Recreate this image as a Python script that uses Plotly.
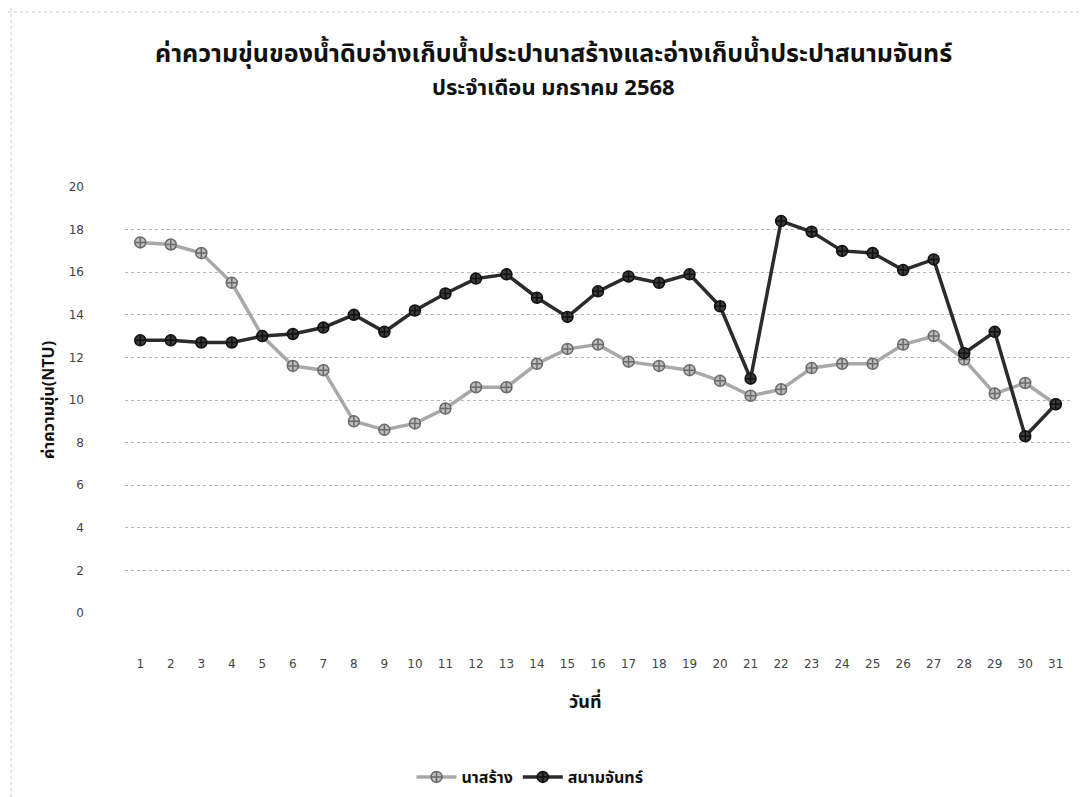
import plotly.graph_objects as go

days = list(range(1, 32))
day_labels = [str(d) for d in days]
nasarang = [17.4, 17.3, 16.9, 15.5, 13.0, 11.6, 11.4, 9.0, 8.6, 8.9, 9.6, 10.6, 10.6,
            11.7, 12.4, 12.6, 11.8, 11.6, 11.4, 10.9, 10.2, 10.5, 11.5, 11.7, 11.7,
            12.6, 13.0, 11.9, 10.3, 10.8, 9.8]
sanamchan = [12.8, 12.8, 12.7, 12.7, 13.0, 13.1, 13.4, 14.0, 13.2, 14.2, 15.0, 15.7, 15.9,
             14.8, 13.9, 15.1, 15.8, 15.5, 15.9, 14.4, 11.0, 18.4, 17.9, 17.0, 16.9,
             16.1, 16.6, 12.2, 13.2, 8.3, 9.8]
y_ticks = [0, 2, 4, 6, 8, 10, 12, 14, 16, 18, 20]
title_line1 = "ค่าความขุ่นของน้ำดิบอ่างเก็บน้ำประปานาสร้างและอ่างเก็บน้ำประปาสนามจันทร์"
title_line2 = "ประจำเดือน มกราคม 2568"
x_title = "วันที่"
y_title = "ค่าความขุ่น(NTU)"

thai = "Tahoma, 'Noto Sans Thai', 'Loma', 'Garuda', sans-serif"

W, H = 1087, 797
ML, MR, MT, MB = 117, 24, 179, 192
PW, PH = W - ML - MR, H - MT - MB


def px_x(p):
    return (p - ML) / PW


def px_y(p):
    return (H - MB - p) / PH


fig = go.Figure()
fig.add_trace(go.Scatter(
    x=days, y=nasarang, name="นาสร้าง", mode="lines+markers",
    line=dict(color="#a8a8a8", width=3.5),
    marker=dict(symbol="circle-cross", size=11, color="#bdbdbd",
                line=dict(color="#6a6a6a", width=1.5)),
))
fig.add_trace(go.Scatter(
    x=days, y=sanamchan, name="สนามจันทร์", mode="lines+markers",
    line=dict(color="#2b2b2b", width=3.5),
    marker=dict(symbol="circle-cross", size=11, color="#3a3a3a",
                line=dict(color="#111111", width=1.5)),
))

fig.update_layout(
    width=W, height=H,
    paper_bgcolor="white", plot_bgcolor="white",
    margin=dict(l=ML, r=MR, t=MT, b=MB),
    showlegend=True,
    legend=dict(
        orientation="h", x=522 / W, xanchor="center", xref="container",
        y=1 - 769 / H, yanchor="middle", yref="container",
        font=dict(family=thai, size=16, color="#111111", weight="bold"),
        itemwidth=40,
    ),
    xaxis=dict(
        tickmode="array", tickvals=days, ticktext=day_labels,
        range=[0.5, 31.5], showgrid=False, zeroline=False, showline=False,
        ticks="", ticklabelstandoff=42,
        tickfont=dict(family="'DejaVu Sans', sans-serif", size=12, color="#444444"),
    ),
    yaxis=dict(
        tickmode="array", tickvals=y_ticks, range=[0, 20],
        showgrid=True, gridcolor="#b5b5b5", griddash="dot", gridwidth=1,
        zeroline=False, showline=False, ticks="", ticklabelstandoff=40,
        tickfont=dict(family="'DejaVu Sans', sans-serif", size=12, color="#444444"),
        title=dict(text=y_title, font=dict(family=thai, size=16, color="#111111", weight="bold"),
                   standoff=10),
    ),
    annotations=[
        dict(text=title_line1, xref="paper", yref="paper", x=px_x(545), y=px_y(46),
             xanchor="center", yanchor="middle", showarrow=False,
             font=dict(family=thai, size=25, color="#111111", weight="bold")),
        dict(text=title_line2, xref="paper", yref="paper", x=px_x(545), y=px_y(80),
             xanchor="center", yanchor="middle", showarrow=False,
             font=dict(family=thai, size=22, color="#111111", weight="bold")),
        dict(text=x_title, xref="paper", yref="paper", x=px_x(577), y=px_y(694),
             xanchor="center", yanchor="middle", showarrow=False,
             font=dict(family=thai, size=18, color="#111111", weight="bold")),
    ],
    shapes=[
        dict(type="line", xref="paper", yref="paper",
             x0=px_x(0), x1=px_x(W), y0=px_y(4), y1=px_y(4),
             line=dict(color="#c8c8c8", width=1, dash="dot")),
        dict(type="line", xref="paper", yref="paper",
             x0=px_x(3), x1=px_x(3), y0=px_y(0), y1=px_y(H),
             line=dict(color="#c8c8c8", width=1, dash="dot")),
    ],
)

fig.write_html("out.html")
